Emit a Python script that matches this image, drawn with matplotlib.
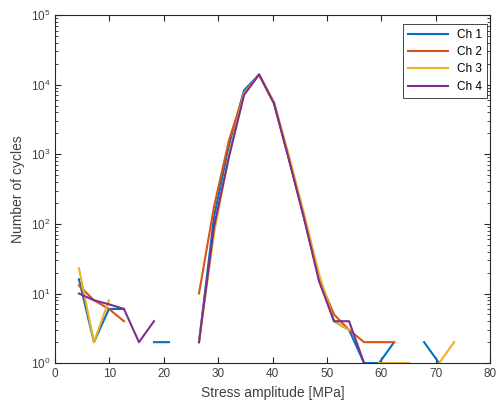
import numpy as np
import matplotlib.pyplot as plt
from matplotlib.ticker import LogLocator, NullFormatter

plt.rcParams['font.family'] = ['Liberation Sans', 'DejaVu Sans']

# bin centres of stress amplitude [MPa]
amp = [4.4, 7.16, 9.92, 12.68, 15.44, 18.2, 20.96, 23.72, 26.48, 29.24,
       32.0, 34.76, 37.52, 40.28, 43.04, 45.8, 48.56, 51.32, 54.08, 56.84,
       59.6, 62.36, 65.12, 67.88, 70.64, 73.4]

# cycle counts per channel (0 = empty bin, not drawn on log scale)
ch1 = [16, 2, 6, 6, 0, 2, 2, 0, 2, 126, 1350, 8300, 14000, 5400, 850, 125, 17, 4, 3, 1, 1, 2, 0, 2, 1, 0]
ch2 = [13, 8, 6, 4, 0, 0, 0, 0, 10, 176, 1600, 7500, 14000, 5400, 850, 125, 16, 5, 3, 2, 2, 2, 0, 0, 0, 0]
ch3 = [23, 2, 8, 0, 0, 0, 0, 0, 2, 73, 1000, 7500, 14000, 5600, 950, 140, 19, 4, 3, 0, 1, 1, 1, 0, 1, 2]
ch4 = [10, 8, 7, 6, 2, 4, 0, 0, 2, 91, 920, 7100, 14000, 5400, 830, 120, 15, 4, 4, 1, 0, 0, 0, 0, 0, 0]

labels = ['Ch 1', 'Ch 2', 'Ch 3', 'Ch 4']
colors = ['#0072BD', '#D95319', '#EDB120', '#7E2F8E']

fig = plt.figure(figsize=(5.02, 4.08), dpi=100)
ax = fig.add_axes([0.1096, 0.110, 0.8665, 0.853])

for vals, lab, col in zip([ch1, ch2, ch3, ch4], labels, colors):
    v = np.array(vals, dtype=float)
    v[v <= 0] = np.nan
    ax.plot(amp, v, color=col, lw=1.5, label=lab)

ax.set_yscale('log')
ax.set_xlim(0, 80)
ax.set_ylim(1, 1e5)
ax.set_xticks(range(0, 81, 10))
ax.yaxis.set_major_locator(LogLocator(base=10, numticks=10))
ax.yaxis.set_minor_locator(LogLocator(base=10, subs=np.arange(2, 10), numticks=10))
ax.yaxis.set_minor_formatter(NullFormatter())

ax.tick_params(which='both', direction='in', top=True, right=True,
               colors='#262626', labelsize=8.5)
ax.tick_params(which='major', length=4)
ax.tick_params(which='minor', length=2)
for lbl in ax.get_xticklabels() + ax.get_yticklabels():
    lbl.set_color('#404040')
for s in ax.spines.values():
    s.set_color('#262626')
    s.set_linewidth(0.8)

ax.set_xlabel('Stress amplitude [MPa]', fontsize=10, color='#404040')
ax.set_ylabel('Number of cycles', fontsize=10, color='#404040')

leg = ax.legend(loc='upper right', bbox_to_anchor=(0.993, 0.974),
                borderaxespad=0, fontsize=8.5, fancybox=False,
                edgecolor='#262626', framealpha=1, handlelength=3.4,
                labelspacing=0.45)
leg.get_frame().set_linewidth(0.6)

fig.savefig('out.png', dpi=100)
